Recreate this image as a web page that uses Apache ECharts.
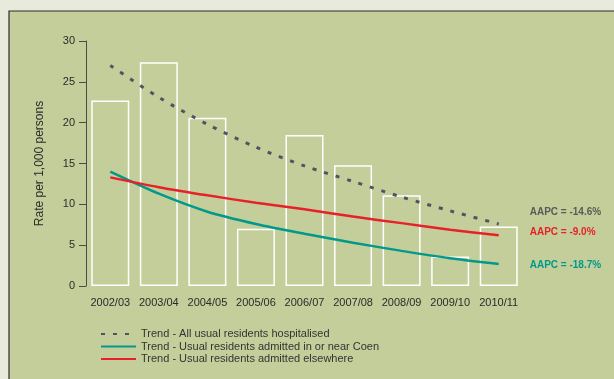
<!DOCTYPE html>
<html>
<head>
<meta charset="utf-8">
<script src="https://cdn.jsdelivr.net/npm/echarts@6/dist/echarts.min.js"></script>
<style>
  html, body { margin: 0; padding: 0; background: #e8ebdc; }
  #chart { width: 614px; height: 379px; }
</style>
</head>
<body>
<div id="chart"></div>
<script>
// Financial years on the x axis
const years = ['2002/03', '2003/04', '2004/05', '2005/06', '2006/07', '2007/08', '2008/09', '2009/10', '2010/11'];

// Observed hospitalisation rate per 1,000 persons (bars)
const observedRate = [22.7, 27.4, 20.6, 7.0, 18.5, 14.8, 11.1, 3.6, 7.3];

// Fitted trends
const trendAll = [27.0, 23.1, 19.8, 17.0, 14.7, 12.8, 10.9, 9.2, 7.6];
const trendCoen = [14.0, 11.3, 9.1, 7.6, 6.4, 5.3, 4.3, 3.4, 2.7];
const trendElsewhere = [13.3, 12.1, 11.1, 10.2, 9.4, 8.5, 7.7, 6.9, 6.2];

// Legend names and end-of-line annual percentage change labels
const nameAll = 'Trend - All usual residents hospitalised';
const nameCoen = 'Trend - Usual residents admitted in or near Coen';
const nameElsewhere = 'Trend - Usual residents admitted elsewhere';
const aapcAll = 'AAPC = -14.6%';
const aapcCoen = 'AAPC = -18.7%';
const aapcElsewhere = 'AAPC = -9.0%';

const FONT = '"Liberation Sans", Arial, Helvetica, sans-serif';
const chart = echarts.init(document.getElementById('chart'), null, { renderer: 'canvas' });

function endLabel(text, color, dy) {
  return {
    show: true,
    formatter: text,
    color: color,
    fontFamily: FONT,
    fontSize: 10,
    fontWeight: 'bold',
    distance: 31,
    offset: [0, dy]
  };
}

chart.setOption({
  animation: false,
  backgroundColor: '#e8ebdc',
  graphic: [{
    type: 'rect',
    z: -10,
    shape: { x: 9, y: 11, width: 620, height: 380 },
    style: { fill: '#c4ce9a', stroke: '#2a2a2a', lineWidth: 1.2 }
  }],
  grid: { left: 86, right: 91, top: 41, bottom: 93 },
  legend: {
    data: [nameAll, nameCoen, nameElsewhere],
    orient: 'vertical',
    left: 95,
    top: 323,
    itemGap: 0.5,
    itemWidth: 35,
    itemHeight: 12,
    itemStyle: { opacity: 0 },
    textStyle: { fontFamily: FONT, fontSize: 11, color: '#333', lineHeight: 12 }
  },
  xAxis: {
    type: 'category',
    data: years,
    axisLine: { show: false },
    axisTick: { show: false },
    axisLabel: { fontFamily: FONT, fontSize: 11, color: '#2b2b2b', margin: 11, interval: 0 }
  },
  yAxis: {
    type: 'value',
    min: 0,
    max: 30,
    interval: 5,
    name: 'Rate per 1,000 persons',
    nameLocation: 'middle',
    nameGap: 40,
    nameTextStyle: { fontFamily: FONT, fontSize: 12, color: '#2b2b2b' },
    axisLine: { show: true, lineStyle: { color: '#4a4a4a', width: 1 } },
    axisTick: { show: true, length: 7, lineStyle: { color: '#4a4a4a' } },
    axisLabel: { fontFamily: FONT, fontSize: 11, color: '#2b2b2b', margin: 11 },
    splitLine: { show: false }
  },
  series: [
    {
      name: 'Observed',
      type: 'bar',
      data: observedRate,
      barWidth: 38,
      itemStyle: { color: 'rgba(0,0,0,0)', borderColor: '#ffffff', borderWidth: 1.5 },
      z: 1
    },
    {
      name: nameAll,
      type: 'line',
      data: trendAll,
      smooth: 0.3,
      symbol: 'none',
      color: '#4f5560',
      lineStyle: { color: '#4f5560', width: 3, type: [4, 8], cap: 'butt' },
      endLabel: endLabel(aapcAll, '#5a5a5a', -12),
      z: 3
    },
    {
      name: nameCoen,
      type: 'line',
      data: trendCoen,
      smooth: 0.3,
      symbol: 'none',
      color: '#00998a',
      lineStyle: { color: '#00998a', width: 2.5 },
      endLabel: endLabel(aapcCoen, '#00998a', 1),
      z: 3
    },
    {
      name: nameElsewhere,
      type: 'line',
      data: trendElsewhere,
      smooth: 0.3,
      symbol: 'none',
      color: '#e8202a',
      lineStyle: { color: '#e8202a', width: 2.5 },
      endLabel: endLabel(aapcElsewhere, '#e8202a', -3),
      z: 3
    }
  ]
});
</script>
</body>
</html>
